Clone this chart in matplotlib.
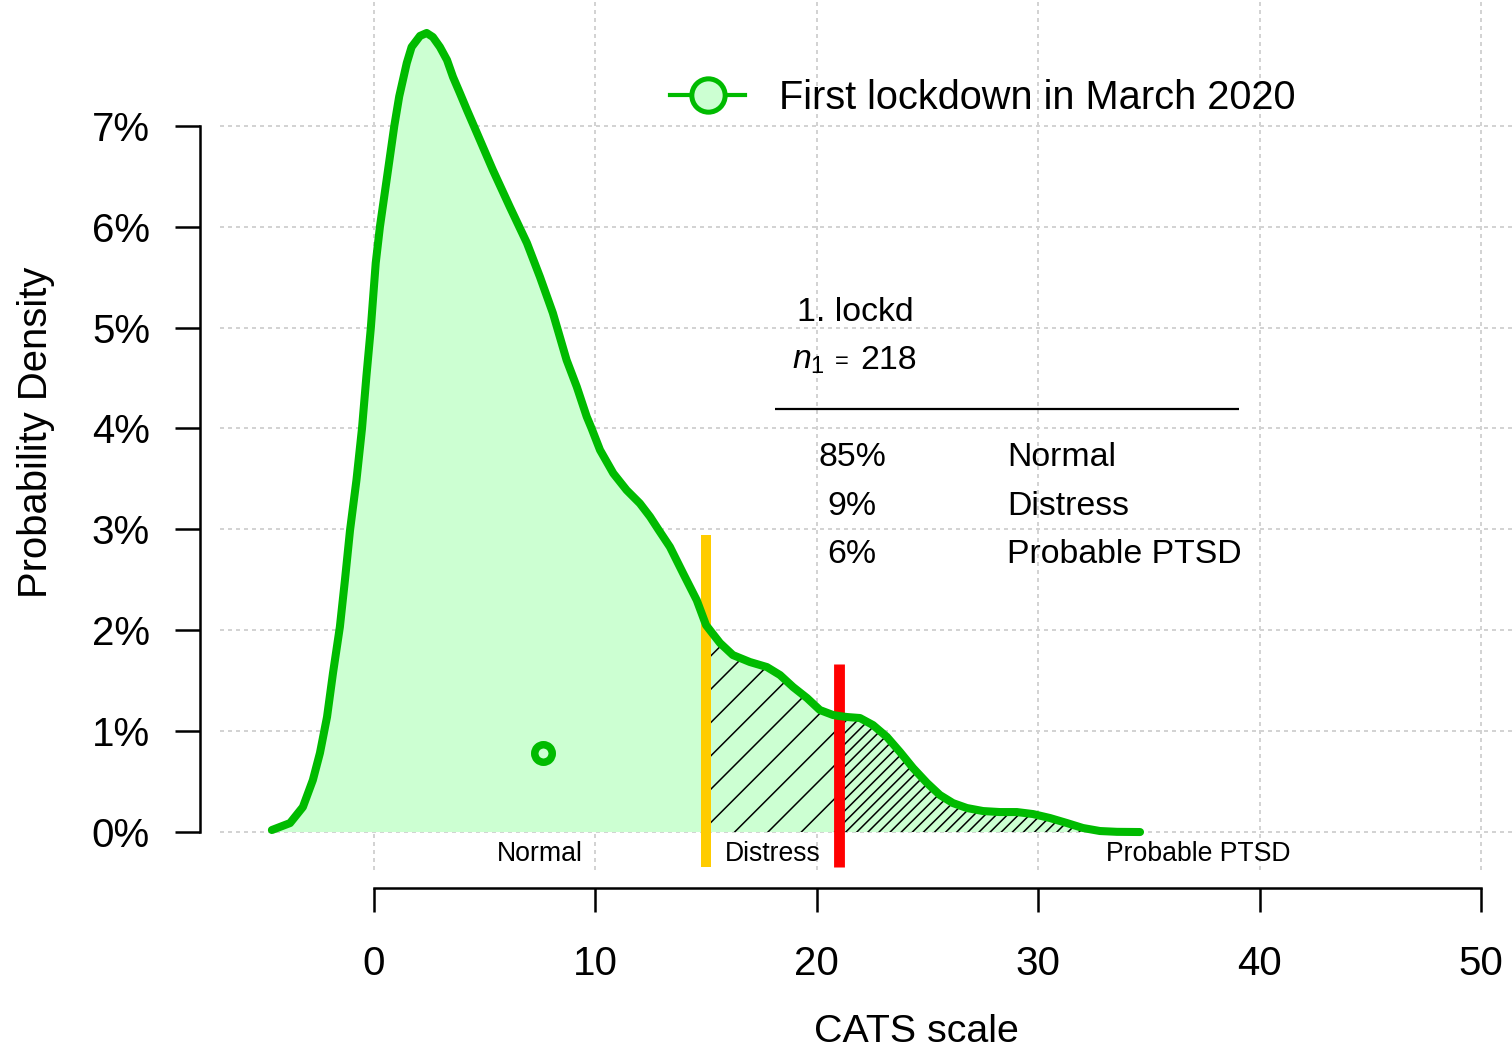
import numpy as np
import matplotlib
matplotlib.use("Agg")
import matplotlib.pyplot as plt
from matplotlib.lines import Line2D

plt.rcParams['font.family'] = ['Liberation Sans', 'DejaVu Sans']
plt.rcParams['mathtext.fontset'] = 'custom'
plt.rcParams['mathtext.rm'] = 'Liberation Sans'
plt.rcParams['mathtext.it'] = 'Liberation Sans:italic'
plt.rcParams['hatch.linewidth'] = 0.55
plt.rcParams['hatch.color'] = 'black'

# ---- data ----
cats_x = np.array([
    -4.61, -3.79, -3.21, -2.76, -2.44, -2.12, -1.85, -1.54, -1.31, -1.08,
    -0.79, -0.54, -0.34, -0.14, 0.08, 0.27, 0.57, 0.92, 1.14, 1.48,
    1.70, 2.08, 2.38, 2.66, 2.98, 3.30, 3.57, 3.88, 4.20,
    4.65, 5.37, 6.14, 6.91, 7.50, 8.08, 8.70, 9.16, 9.61, 9.83,
    10.21, 10.81, 11.41, 12.01, 12.47, 12.84, 13.37, 13.97, 14.58, 15.00,
    15.63, 16.21, 16.98,
    17.75, 18.34, 18.93, 19.56, 20.14, 20.73, 21.00, 21.36, 21.95, 22.54,
    23.17, 23.76, 24.35, 24.98, 25.56, 26.15, 26.78, 27.51, 28.27, 29.04,
    29.77, 30.53, 31.30, 32.02, 32.79, 33.56, 34.60])
density = np.array([
    0.00020, 0.00089, 0.00248, 0.00515, 0.00783, 0.01140, 0.01576, 0.02032, 0.02498, 0.02993,
    0.03489, 0.04000, 0.04520, 0.05000, 0.05640, 0.06000, 0.06460, 0.07000, 0.07290, 0.07620,
    0.07780, 0.07890, 0.07919, 0.07879, 0.07780, 0.07651, 0.07483, 0.07324, 0.07156,
    0.06928, 0.06561, 0.06194, 0.05837, 0.05500, 0.05144, 0.04678, 0.04413, 0.04116, 0.04000,
    0.03786, 0.03555, 0.03389, 0.03257, 0.03125, 0.03000, 0.02825, 0.02561, 0.02297, 0.02050,
    0.01873, 0.01754, 0.01685,
    0.01635, 0.01556, 0.01437, 0.01328, 0.01209, 0.01160, 0.01150, 0.01140, 0.01130, 0.01060,
    0.00942, 0.00793, 0.00634, 0.00486, 0.00367, 0.00287, 0.00238, 0.00208, 0.00198, 0.00198,
    0.00178, 0.00139, 0.00089, 0.00040, 0.00010, 0.00002, 0.00000])

cut_distress = 15
cut_ptsd = 21
cut_bar_top = [0.0294, 0.01665]
mean_x = 7.63
mean_y = 0.00783

y_ticks = [0, 0.01, 0.02, 0.03, 0.04, 0.05, 0.06, 0.07]
y_labels = ['0%', '1%', '2%', '3%', '4%', '5%', '6%', '7%']
x_ticks = [0, 10, 20, 30, 40, 50]

group_names = ['Normal', 'Distress', 'Probable PTSD']
group_label_x = [7.5, 18.0, 37.25]
group_pct = ['85%', '9%', '6%']
legend_label = 'First lockdown in March 2020'
sample_name = '1. lockd'
sample_n = 218

green = '#00BB00'
fill_col = '#CCFFD2'

fig = plt.figure(figsize=(7.56, 5.26), dpi=200)
ax = fig.add_axes([0, 0, 1, 1])
ax.set_xlim(-16.89, 51.40)
ax.set_ylim(-0.0218, 0.08246)
ax.patch.set_alpha(0)

# grid
grid_kw = dict(color='#D3D3D3', lw=0.72, linestyle=(0, (2, 2)), zorder=0)
ax.hlines(y_ticks, -6.96, 51.4, **grid_kw)
ax.vlines(x_ticks, -0.00377, 0.0825, **grid_kw)

# fill & hatching
ax.fill_between(cats_x, 0, density, facecolor=fill_col, edgecolor='none', lw=0, zorder=1)
m1 = (cats_x >= cut_distress) & (cats_x <= cut_ptsd)
ax.fill_between(cats_x, 0, density, where=m1, facecolor='none', edgecolor='black',
                lw=0, hatch='//', zorder=2)
m2 = cats_x >= cut_ptsd
ax.fill_between(cats_x, 0, density, where=m2, facecolor='none', edgecolor='black',
                lw=0, hatch='//////', zorder=2)

# cut bars
ax.vlines([cut_distress], -0.00347, cut_bar_top[0], color='#FFCC00', lw=3.6, zorder=3)
ax.vlines([cut_ptsd], -0.00347, cut_bar_top[1], color='#FF0000', lw=3.9, zorder=3)

# curve
ax.plot(cats_x, density, color=green, lw=2.9, solid_capstyle='round',
        solid_joinstyle='round', zorder=4)
ax.plot([mean_x], [mean_y], 'o', ms=6.3, mew=2.7, mec=green, mfc='none', zorder=5)

# axes
for s in ['top', 'right']:
    ax.spines[s].set_visible(False)
ax.spines['left'].set_position(('data', -7.86))
ax.spines['left'].set_bounds(0, 0.07)
ax.spines['bottom'].set_position(('data', -0.00555))
ax.spines['bottom'].set_bounds(0, 50)
for s in ['left', 'bottom']:
    ax.spines[s].set_linewidth(0.9)
ax.set_yticks(y_ticks)
ax.set_yticklabels(y_labels)
ax.set_xticks(x_ticks)
ax.set_xticklabels([str(v) for v in x_ticks])
ax.tick_params(axis='y', direction='out', length=9, width=0.9, pad=9, labelsize=14.5)
ax.tick_params(axis='x', direction='out', length=8.6, width=0.9, pad=12, labelsize=14.5)

ax.text(24.48, -0.01982, 'CATS scale', ha='center', va='center', fontsize=14.2)
ax.text(-15.25, 0.03964, 'Probability Density', ha='center', va='center',
        rotation=90, fontsize=14.4)

for name, gx in zip(group_names, group_label_x):
    ax.text(gx, -0.00218, name, ha='center', va='center', fontsize=9.6)

# legend
h = Line2D([], [], color=green, lw=1.5, marker='o', ms=12, mew=1.8,
           mec=green, mfc=fill_col)
fig.legend([h], [legend_label], loc='center left', bbox_to_anchor=(0.4431, 0.9068),
           frameon=False, fontsize=14.3, handlelength=1.9, handletextpad=0.85,
           borderpad=0, borderaxespad=0)

# summary table
tfs = 12.2
ax.text(19.1, 0.05144, sample_name, ha='left', va='center', fontsize=tfs)
ax.text(18.88, 0.04678, r'$n_{\mathit{1}}$', ha='left', va='center', fontsize=tfs)
ax.text(21.15, 0.04660, '=', ha='center', va='center', fontsize=8.5)
ax.text(21.95, 0.04678, str(sample_n), ha='left', va='center', fontsize=tfs)
ax.hlines([0.04192], 18.11, 39.07, color='black', lw=0.8)
for i, (p, name) in enumerate(zip(group_pct, group_names)):
    yy = 0.03707 - i * 0.00476
    ax.text(21.59, yy, p, ha='center', va='center', fontsize=tfs)
    ax.text(28.59, yy, name, ha='left', va='center', fontsize=tfs)

fig.savefig('out.png', dpi=200)
